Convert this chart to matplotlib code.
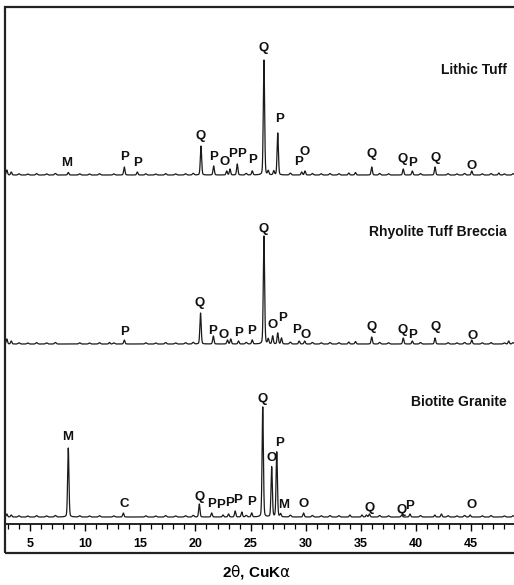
import numpy as np
import matplotlib
matplotlib.use("Agg")
import matplotlib.pyplot as plt
import matplotlib.transforms as mtransforms
from matplotlib.patches import Rectangle

# ---------------- data ----------------
two_theta_min, two_theta_max = 2.733, 49.06

# peak positions (2theta) and heights (relative intensity units) for each sample
lithic_pos = [2.9, 3.3, 8.47, 13.55, 14.73, 20.50, 21.65, 22.83, 23.13, 23.79, 25.15, 26.21, 26.6,
              27.10, 27.46, 29.63, 29.93, 33.9, 34.5, 35.98, 38.84, 39.66, 41.72, 45.05, 47.5]
lithic_h = [5, 3, 2.5, 8, 3, 29, 9, 4, 6, 11, 4, 115, 4,
            4, 42, 3, 4, 2, 2.5, 8, 6, 4, 8, 4, 2]

rhyolite_pos = [2.9, 3.3, 12.2, 13.55, 20.46, 21.62, 22.9, 23.2, 23.9, 25.15, 26.21, 26.6, 27.0,
                27.46, 27.8, 29.4, 29.9, 33.9, 34.5, 35.98, 38.84, 39.66, 41.72, 45.05, 48.4]
rhyolite_h = [5, 3, 1.5, 4, 31, 8, 4, 5, 3, 4, 108, 5, 8,
              11, 6, 3, 3, 2, 2.5, 7, 6, 3, 6, 4, 3]

biotite_pos = [2.9, 3.3, 8.47, 13.46, 20.35, 21.47, 22.5, 23.0, 23.6, 24.2, 25.1, 26.10, 26.91,
               27.37, 27.72, 29.8, 34.0, 35.1, 35.5, 35.77, 38.7, 39.45, 41.7, 42.3, 44.9]
biotite_h = [3, 2, 69, 4, 13, 4, 2, 3, 6, 5, 4, 110, 50,
             65, 3, 4, 2, 2, 2, 3, 2, 3, 2, 3, 2]

# low background ripple (2theta, height) shared texture
ripple_pos = [4.0, 4.8, 5.6, 6.5, 7.3, 9.5, 10.4, 11.3, 12.6, 15.5, 16.4, 17.3, 18.2, 19.1, 19.8,
              24.6, 28.6, 30.6, 31.4, 32.2, 33.0, 36.7, 37.5, 40.4, 42.9, 43.7, 44.4, 46.0, 46.8, 48.0, 48.8]
ripple_h = [1.2, 1.0, 1.4, 1.1, 1.5, 1.2, 1.0, 1.3, 1.1, 1.2, 1.0, 1.4, 1.1, 1.3, 1.6,
            1.5, 1.8, 1.5, 1.2, 1.4, 1.3, 1.5, 1.2, 1.4, 1.3, 1.1, 1.5, 1.2, 1.4, 1.1, 1.3]

# offsets of each pattern (stacking)
lithic_offset, rhyolite_offset, biotite_offset = 349, 180, 7

# peak labels: letter, 2theta, height above baseline
lithic_lab = ["M", "P", "P", "Q", "P", "O", "P", "P", "P", "Q", "P", "P", "O", "Q", "Q", "P", "Q", "O"]
lithic_lab_x = [8.33, 13.55, 14.73, 20.50, 21.68, 22.68, 23.34, 24.19, 25.15, 26.21, 27.60, 29.39,
                29.93, 35.98, 38.79, 39.70, 41.81, 45.05]
lithic_lab_y = [11.7, 17.7, 11.7, 39.3, 18.3, 12.7, 21, 21, 15, 126.7, 56, 12.7, 22.7, 21, 15.7,
                11.7, 16.7, 9.3]

rhyolite_lab = ["P", "Q", "P", "O", "P", "P", "Q", "O", "P", "P", "O", "Q", "Q", "P", "Q", "O"]
rhyolite_lab_x = [13.61, 20.41, 21.56, 22.59, 23.88, 25.10, 26.15, 27.00, 27.91, 29.15, 30.02,
                  35.98, 38.79, 39.66, 41.81, 45.14]
rhyolite_lab_y = [11.6, 41, 12.6, 9.3, 11, 12.6, 115, 19.3, 26, 14.3, 9.3, 17, 13.6, 9.3, 17, 7.6]

biotite_lab = ["M", "C", "Q", "P", "P", "P", "P", "P", "Q", "O", "P", "M", "O", "Q", "Q", "P", "O"]
biotite_lab_x = [8.42, 13.52, 20.35, 21.47, 22.32, 23.07, 23.79, 25.10, 26.06, 26.91, 27.60, 27.96,
                 29.78, 35.83, 38.70, 39.45, 45.05]
biotite_lab_y = [80, 12.7, 20, 12.7, 11.7, 14, 16.7, 15, 118.4, 59.4, 74, 11.7, 13.4, 9.4, 6.7,
                 10.7, 11.7]

sample_names = ["Lithic Tuff", "Rhyolite Tuff Breccia", "Biotite Granite"]
sample_name_y = [454, 292, 122]

x_ticks = [5, 10, 15, 20, 25, 30, 35, 40, 45]
x_label = r"2$\mathrm{\theta}$, CuK$\mathrm{\alpha}$"

# ---------------- plotting ----------------
plt.rcParams['font.family'] = ['Liberation Sans', 'DejaVu Sans']
plt.rcParams['mathtext.fontset'] = 'dejavusans'

W, H = 514, 585
fig = plt.figure(figsize=(W / 100, H / 100), dpi=100)
ax = fig.add_axes([5 / W, (H - 524) / H, 511 / W, 517 / H])

x = np.linspace(two_theta_min, two_theta_max, 6000)


def pattern(pos, h):
    y = np.zeros_like(x)
    for p, a in zip(pos, h):
        g = np.exp(-0.5 * ((x - p) / 0.06) ** 2)
        l = 1.0 / (1.0 + ((x - p) / 0.07) ** 2)
        y += a * (0.8 * g + 0.2 * l)
    for p, a in zip(ripple_pos, ripple_h):
        y += a * np.exp(-0.5 * ((x - p) / 0.08) ** 2)
    return y


for pos, h, off in [(lithic_pos, lithic_h, lithic_offset),
                    (rhyolite_pos, rhyolite_h, rhyolite_offset),
                    (biotite_pos, biotite_h, biotite_offset)]:
    ax.plot(x, pattern(pos, h) + off, color='#1a1a1a', lw=0.9)

lab_kw = dict(ha='center', va='center', fontsize=9.5, fontweight='bold', color='#111111')
for labs, lx, ly, off in [(lithic_lab, lithic_lab_x, lithic_lab_y, lithic_offset),
                          (rhyolite_lab, rhyolite_lab_x, rhyolite_lab_y, rhyolite_offset),
                          (biotite_lab, biotite_lab_x, biotite_lab_y, biotite_offset)]:
    for t, xx, yy in zip(labs, lx, ly):
        ax.text(xx, yy + off, t, **lab_kw)

blend = mtransforms.blended_transform_factory(ax.transAxes, ax.transData)
for name, yy in zip(sample_names, sample_name_y):
    ax.text(0.982, yy, name, transform=blend,
            ha='right', va='center', fontsize=10, fontweight='bold', color='#111111')

ax.set_xlim(two_theta_min, two_theta_max)
ax.set_ylim(0, 517)
ax.set_xticks(x_ticks)
ax.set_xticks(np.arange(3, 50, 1), minor=True)
ax.set_yticks([])
ax.tick_params(axis='x', which='major', direction='out', length=5, width=1.0, pad=5,
               labelsize=9)
ax.tick_params(axis='x', which='minor', direction='out', length=3.5, width=0.9)
for lbl in ax.get_xticklabels():
    lbl.set_fontweight('bold')
for s in ['left', 'top', 'right']:
    ax.spines[s].set_visible(False)
ax.spines['bottom'].set_linewidth(1.2)
ax.patch.set_visible(False)

# outer frame
fig.add_artist(Rectangle((5 / W, (H - 553) / H), 513 / W, 546 / H, transform=fig.transFigure,
                         fill=False, lw=1.6, edgecolor='#222222'))

fig.text(257 / W, (H - 572) / H, x_label, ha='center', va='center', fontsize=11,
         fontweight='bold')

fig.savefig("out.png", dpi=100)
